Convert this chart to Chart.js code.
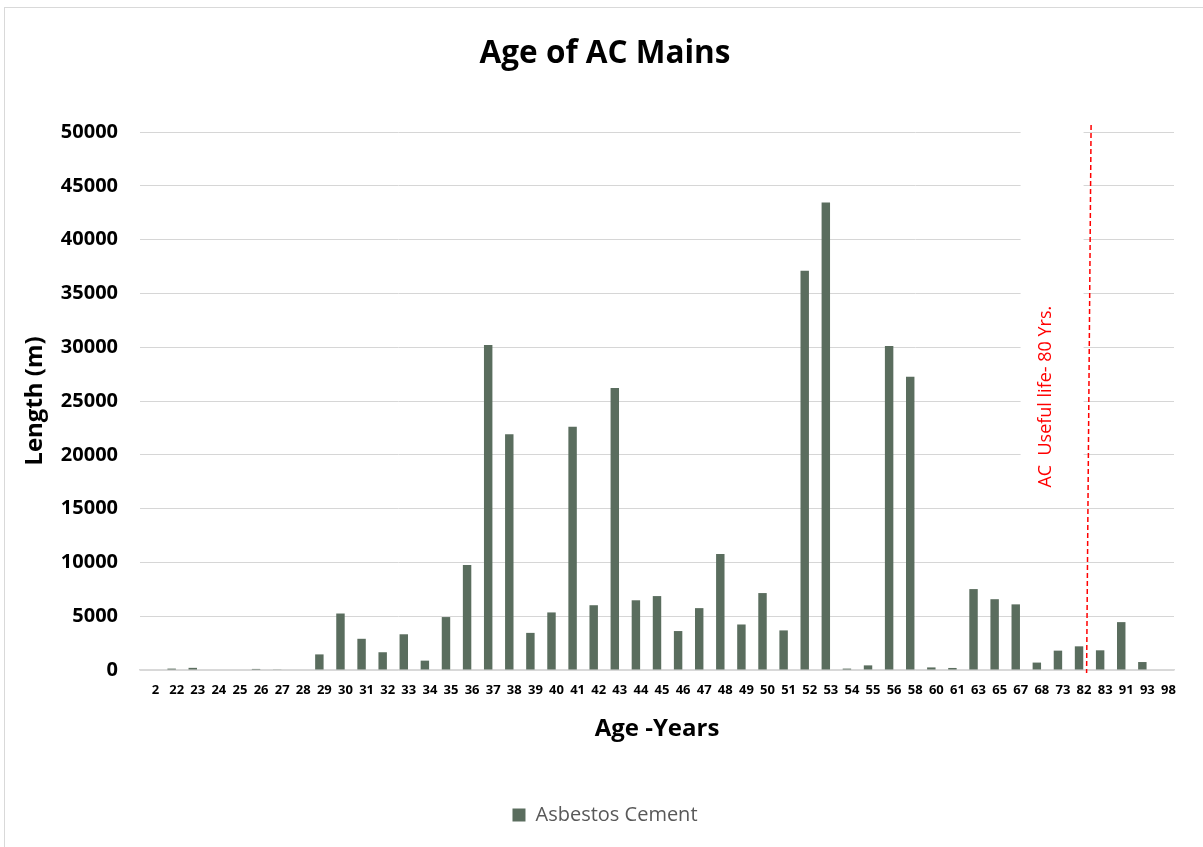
<!DOCTYPE html>
<html>
<head>
<meta charset="utf-8">
<title>Age of AC Mains</title>
<script src="https://cdn.jsdelivr.net/npm/chart.js@4/dist/chart.umd.min.js"></script>
<style>
  html, body { margin: 0; padding: 0; background: #ffffff; overflow: hidden; }
  #frame {
    position: absolute; left: 4px; top: 7px; width: 1400px; height: 1000px;
    border: 1px solid #d9d9d9; box-sizing: border-box;
  }
  #wrap { position: absolute; left: 0; top: 0; width: 1203px; height: 847px; }
</style>
</head>
<body>
<div id="frame"></div>
<div id="wrap"><canvas id="chart" width="1203" height="847"></canvas></div>
<script>
// Age of asbestos-cement mains (years) and total length in metres
const ages = ['2', '22', '23', '24', '25', '26', '27', '28', '29', '30', '31', '32', '33', '34', '35', '36',
  '37', '38', '39', '40', '41', '42', '43', '44', '45', '46', '47', '48', '49', '50', '51', '52', '53',
  '54', '55', '56', '58', '60', '61', '63', '65', '67', '68', '73', '82', '83', '91', '93', '98'];

const lengthMetres = [0, 130, 200, 0, 0, 100, 60, 0, 1450, 5250, 2900, 1650, 3320, 870, 4920, 9750,
  30200, 21900, 3450, 5350, 22600, 6020, 26200, 6480, 6870, 3620, 5750, 10790, 4230, 7150, 3680, 37100, 43450,
  130, 430, 30120, 27260, 240, 190, 7520, 6580, 6100, 690, 1800, 2200, 1830, 4450, 740, 0];

const yTicks = [0, 5000, 10000, 15000, 20000, 25000, 30000, 35000, 40000, 45000, 50000];

const usefulLifeNote = 'AC  Useful life- 80 Yrs.';
const usefulLifeAfter = '82';   // marker sits on the boundary after this age

const FONT = "'Open Sans', 'DejaVu Sans', sans-serif";

// Red dashed "useful life" marker with its rotated caption on a white box
const usefulLifePlugin = {
  id: 'usefulLife',
  afterDatasetsDraw(chart) {
    const { ctx, chartArea, scales: { x, y } } = chart;
    const i = ages.indexOf(usefulLifeAfter);
    const xb = (x.getPixelForValue(i) + x.getPixelForValue(i + 1)) / 2;
    ctx.save();
    // caption box
    ctx.fillStyle = '#ffffff';
    ctx.fillRect(xb - 69, chartArea.top - 8, 63, y.getPixelForValue(16000) - chartArea.top + 8);
    // caption
    ctx.translate(xb - 44, y.getPixelForValue(16950));
    ctx.rotate(-Math.PI / 2);
    ctx.fillStyle = '#ff0000';
    ctx.font = '18px ' + FONT;
    ctx.textAlign = 'left';
    ctx.textBaseline = 'middle';
    ctx.fillText(usefulLifeNote, 0, 0);
    ctx.restore();
    // dashed marker line
    ctx.save();
    ctx.strokeStyle = '#ff0000';
    ctx.lineWidth = 1.5;
    ctx.setLineDash([5, 3]);
    ctx.beginPath();
    ctx.moveTo(xb + 1.5, chartArea.top - 7);
    ctx.lineTo(xb - 3, chartArea.bottom + 3);
    ctx.stroke();
    ctx.restore();
  }
};

new Chart(document.getElementById('chart'), {
  type: 'bar',
  data: {
    labels: ages,
    datasets: [{
      label: 'Asbestos Cement',
      data: lengthMetres,
      backgroundColor: '#5a6d5e',
      borderWidth: 0,
      categoryPercentage: 1.0,
      barPercentage: 0.4
    }]
  },
  options: {
    responsive: false,
    animation: false,
    events: [],
    layout: { padding: { left: 36, right: 29, top: 0, bottom: 12 } },
    plugins: {
      title: {
        display: true,
        text: 'Age of AC Mains',
        color: '#000000',
        font: { family: FONT, size: 31.5, weight: 'bold', lineHeight: 1.2 },
        padding: { top: 35, bottom: 59.2 }
      },
      legend: {
        display: true,
        position: 'bottom',
        labels: {
          color: '#595959',
          font: { family: FONT, size: 20, lineHeight: 1.2 },
          boxWidth: 13,
          boxHeight: 13,
          padding: 10
        }
      },
      tooltip: { enabled: false }
    },
    scales: {
      x: {
        grid: { display: false, drawTicks: false },
        border: { display: true, color: '#d9d9d9', width: 1.5 },
        ticks: {
          color: '#000000',
          font: { family: FONT, size: 13, weight: 'bold' },
          padding: 12,
          labelOffset: 5,
          maxRotation: 0,
          autoSkip: false
        },
        title: {
          display: true,
          text: 'Age -Years',
          color: '#000000',
          font: { family: FONT, size: 24, weight: 'bold', lineHeight: 1.2 },
          padding: { top: 0, bottom: 51.6 }
        },
        afterFit(scale) { scale.height = 125; }
      },
      y: {
        min: 0,
        max: 50000,
        grid: { color: '#d6d6d6', lineWidth: 1, drawTicks: false },
        border: { display: false },
        afterBuildTicks(scale) { scale.ticks = yTicks.map(v => ({ value: v })); },
        ticks: {
          color: '#000000',
          font: { family: FONT, size: 20, weight: 'bold' },
          padding: 22,
          callback: (v) => String(v)
        },
        title: {
          display: true,
          text: 'Length (m)',
          color: '#000000',
          font: { family: FONT, size: 24, weight: 'bold', lineHeight: 1.2 },
          padding: { top: -15.4, bottom: 0 }
        },
        afterFit(scale) { scale.width = 104; }
      }
    }
  },
  plugins: [usefulLifePlugin]
});
</script>
</body>
</html>
